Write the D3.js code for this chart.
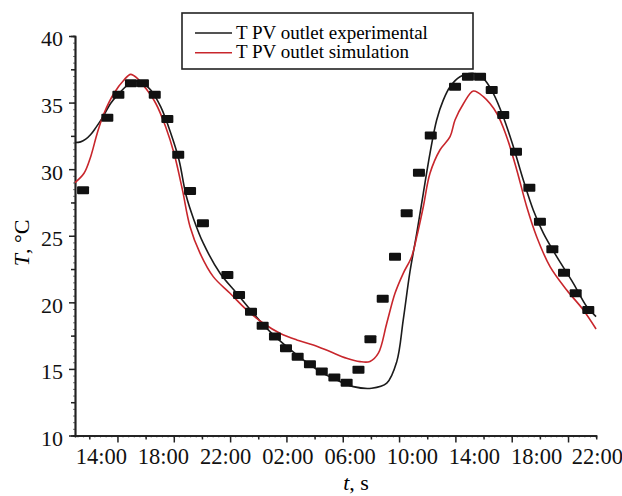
<!DOCTYPE html>
<html>
<head>
<meta charset="utf-8">
<script src="https://cdn.jsdelivr.net/npm/d3@7"></script>
<style>
body { margin:0; background:#fff; }
svg, svg text { font-family:"Liberation Serif","Times New Roman",serif; }
.axis path, .axis line { stroke:#222; stroke-width:1.5; }
</style>
</head>
<body>
<svg id="chart"></svg>
<script>
// time in hours (14 = 14:00 first day, 38 = 14:00 next day)
var pointHours = [12.86,14.42,15.13,15.94,16.71,17.47,18.28,18.98,19.74,20.57,22.14,22.89,23.66,24.41,25.20,25.91,26.66,27.45,28.21,29.02,29.81,30.57,31.34,32.13,32.92,33.67,34.46,35.22,36.78,37.61,38.39,39.14,39.88,40.70,41.56,42.24,43.04,43.79,44.54,45.35];
var pointTemps = [28.42,33.87,35.59,36.45,36.45,35.59,33.77,31.09,28.36,25.94,22.06,20.56,19.30,18.25,17.43,16.55,15.92,15.35,14.80,14.35,13.97,14.93,17.23,20.26,23.43,26.69,29.74,32.52,36.19,36.94,36.94,35.95,34.07,31.31,28.61,26.06,23.99,22.23,20.68,19.43];

var expHours = [12.34,12.70,13.03,13.35,13.67,14.10,14.64,15.28,15.81,16.24,16.67,17.21,17.85,18.50,19.03,19.48,19.99,20.59,21.67,22.74,23.81,24.88,25.96,27.02,28.10,29.17,30.24,31.42,32.39,33.03,33.45,33.88,34.32,34.74,35.17,35.60,36.03,36.46,37.10,37.96,38.60,39.24,39.88,40.53,41.17,41.81,42.46,43.32,44.39,45.25,45.85];
var expTemps = [32.00,32.05,32.25,32.60,33.10,33.85,34.95,35.82,36.40,36.62,36.49,35.95,34.69,32.70,30.69,28.06,26.19,24.44,22.18,20.68,19.18,17.80,16.67,15.68,14.80,14.17,13.67,13.55,13.93,15.53,18.68,22.28,25.19,28.19,31.19,33.69,35.20,36.19,36.94,37.20,36.82,35.70,33.94,31.69,29.19,26.94,25.19,23.43,21.43,19.68,18.93];

var simHours = [12.34,12.92,13.35,13.77,14.21,14.85,15.49,15.92,16.35,16.89,17.53,18.17,18.71,19.25,19.74,20.38,21.23,22.31,23.38,24.45,25.52,26.60,27.67,28.74,29.81,30.67,31.31,31.85,32.39,32.92,33.45,33.99,34.32,34.74,35.17,35.81,36.46,36.78,37.31,37.96,38.60,39.46,40.10,40.75,41.39,42.03,42.89,43.96,45.03,45.85];
var simTemps = [28.99,29.69,30.94,32.70,34.20,35.70,36.70,37.12,36.82,36.07,34.95,33.19,31.19,28.44,25.68,23.69,21.93,20.68,19.43,18.43,17.68,17.18,16.80,16.30,15.80,15.55,15.56,16.18,18.43,20.68,22.18,23.43,24.93,27.18,29.69,31.44,32.44,33.69,34.89,35.87,35.44,34.20,32.44,29.94,27.18,24.93,22.68,20.93,19.43,18.00];

var timeLabels = ["14:00","18:00","22:00","02:00","06:00","10:00","14:00","18:00","22:00"];
var labelHours = [14,18,22,26,30,34,38,42,45.9];
var yMajor = [10,15,20,25,30,35,40];
var yMinor = [12.5,17.5,22.5,27.5,32.5,37.5];
var seriesNames = ["T PV outlet experimental","T PV outlet simulation"];
var seriesColors = ["#1b1b1b","#c8262c"];
var serif = "'Liberation Serif','Times New Roman',serif";

var screen = {width:622,height:496}
var margins = {left:75,right:26,top:36,bottom:60.5}
var graph = {
    width:screen.width-margins.left-margins.right,
    height:screen.height-margins.top-margins.bottom
}

var svg = d3.select("#chart")
    .attr("width",screen.width)
    .attr("height",screen.height)

var target = svg.append("g")
    .attr("transform","translate("+margins.left+","+margins.top+")")

var xScale = d3.scaleLinear()
    .domain([12.341,12.341+graph.width/15.55])
    .range([0,graph.width])
var yScale = d3.scaleLinear()
    .domain([10,40])
    .range([graph.height,0])

// tick marks along x (every 1.811 h, longer on odd ones)
var xTicks = d3.range(19).map(function(k){ return 13.261+k*1.811 })
var xLong = xTicks.filter(function(d,i){ return i%2==1 })
var xShort = xTicks.filter(function(d,i){ return i%2==0 })

var drawAxes = function()
{
    var fine = d3.range(10.5,40,0.5)
    target.append("g").attr("class","axis")
        .call(d3.axisLeft(yScale).tickValues(fine).tickSize(2).tickFormat(""))
        .selectAll("line").style("stroke-width",0.6)
    target.append("g").attr("class","axis")
        .call(d3.axisLeft(yScale).tickValues(yMinor).tickSize(4).tickFormat(""))
    var yAxis = target.append("g").attr("class","axis")
        .call(d3.axisLeft(yScale).tickValues(yMajor).tickSize(6).tickPadding(6).tickSizeOuter(0))
    yAxis.attr("font-family",serif).attr("font-size",22)
    yAxis.selectAll("text")
        .attr("dy","0.45em")
        .attr("fill","#111")
        .style("font-family",serif)

    var fineX = d3.range(12.5,45.85,0.3622)
    target.append("g").attr("class","axis")
        .attr("transform","translate(0,"+graph.height+")")
        .call(d3.axisBottom(xScale).tickValues(fineX).tickSize(2).tickFormat(""))
        .selectAll("line").style("stroke-width",0.6)
    target.append("g").attr("class","axis")
        .attr("transform","translate(0,"+graph.height+")")
        .call(d3.axisBottom(xScale).tickValues(xShort).tickSize(4).tickFormat("").tickSizeOuter(0))
    target.append("g").attr("class","axis")
        .attr("transform","translate(0,"+graph.height+")")
        .call(d3.axisBottom(xScale).tickValues(xLong).tickSize(7).tickFormat("").tickSizeOuter(0))
    var labelAxis = target.append("g").attr("class","axis")
        .attr("transform","translate(0,"+graph.height+")")
        .call(d3.axisBottom(xScale).tickValues(labelHours).tickSize(0).tickPadding(13)
            .tickFormat(function(d,i){ return timeLabels[i] }))
    labelAxis.attr("font-family",serif).attr("font-size",22.5)
    labelAxis.select(".domain").remove()
    labelAxis.selectAll("text")
        .attr("fill","#111")
        .style("font-family",serif)
}

var drawLines = function()
{
    var line = d3.line()
        .x(function(d){ return xScale(d[0]) })
        .y(function(d){ return yScale(d[1]) })
        .curve(d3.curveCatmullRom)
    var series = [d3.zip(expHours,expTemps),d3.zip(simHours,simTemps)]
    target.selectAll(".curve")
        .data(series)
        .enter()
        .append("path")
        .attr("class","curve")
        .attr("d",line)
        .attr("fill","none")
        .attr("stroke",function(d,i){ return seriesColors[i] })
        .attr("stroke-width",1.6)

    target.selectAll(".pt")
        .data(d3.zip(pointHours,pointTemps))
        .enter()
        .append("rect")
        .attr("class","pt")
        .attr("x",function(d){ return xScale(d[0])-6 })
        .attr("y",function(d){ return yScale(d[1])-4 })
        .attr("width",12)
        .attr("height",8)
        .attr("rx",1)
        .attr("fill","#111")
}

var drawLabels = function()
{
    var ylab = svg.append("text")
        .attr("text-anchor","middle")
        .attr("transform","translate(29,243) rotate(-90)")
        .style("font-size","22px")
    ylab.append("tspan").style("font-style","italic").text("T")
    ylab.append("tspan").text(", °C")

    var xlab = svg.append("text")
        .attr("text-anchor","middle")
        .attr("x",356)
        .attr("y",490)
        .style("font-size","22px")
    xlab.append("tspan").style("font-style","italic").text("t")
    xlab.append("tspan").text(", s")
}

var drawLegend = function()
{
    var legend = svg.append("g")
        .attr("transform","translate(182,13)")
    legend.append("rect")
        .attr("width",291)
        .attr("height",56)
        .attr("fill","#fff")
        .attr("stroke","#222")
        .attr("stroke-width",1.6)
    var entries = legend.selectAll(".entry")
        .data(seriesNames)
        .enter()
        .append("g")
        .attr("transform",function(d,i){ return "translate(0,"+(20+i*19.7)+")" })
    entries.append("line")
        .attr("x1",13).attr("x2",50)
        .attr("stroke",function(d,i){ return seriesColors[i] })
        .attr("stroke-width",1.6)
    entries.append("text")
        .attr("x",54)
        .attr("y",5.5)
        .style("font-size","19px")
        .text(function(d){ return d })
}

drawAxes();
drawLines();
drawLabels();
drawLegend();
</script>
</body>
</html>
